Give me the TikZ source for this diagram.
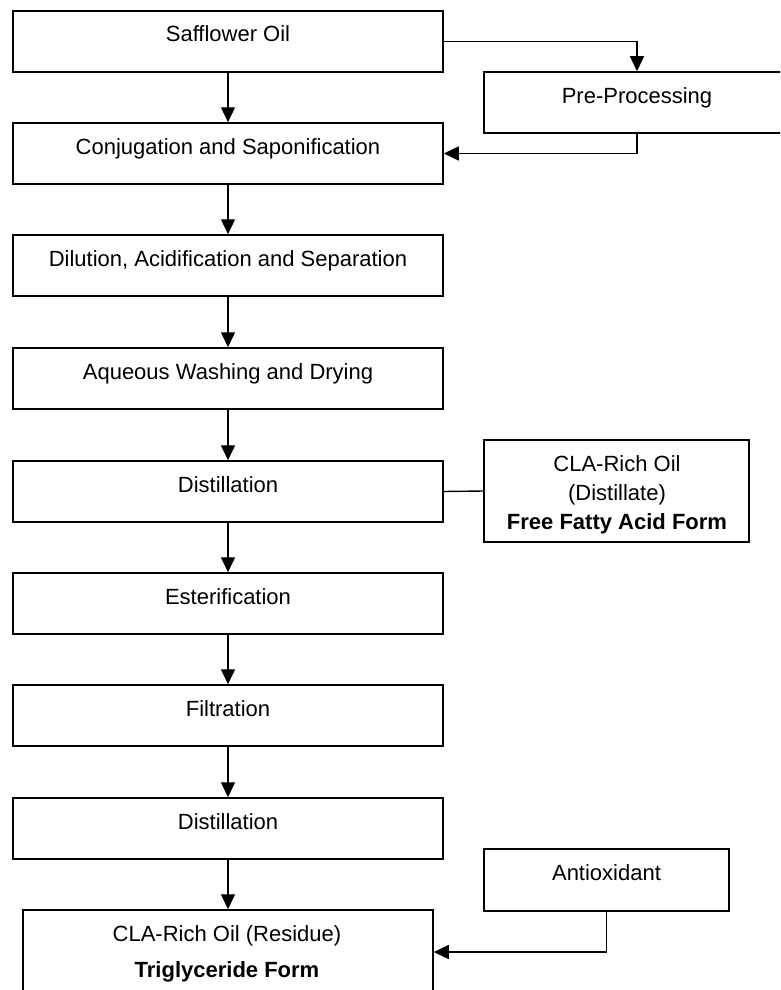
\documentclass[tikz,border=0pt]{standalone}
\usepackage{fontspec}
\setmainfont{Liberation Sans}
\usetikzlibrary{arrows.meta}
\begin{document}
\begin{tikzpicture}[x=1pt,y=-1pt,
  box/.style={draw, line width=1.5pt, inner sep=0pt},
  mainbox/.style={box, minimum width=430pt, minimum height=61pt},
  txt/.style={anchor=base, inner sep=0pt, font=\fontsize{22}{26}\selectfont},
  btxt/.style={txt, font=\fontsize{22}{26}\selectfont\bfseries},
  arr/.style={line width=1.4pt, -{Triangle[length=15pt,width=14pt]}},
  conn/.style={line width=1.4pt}]
\useasboundingbox (0,0) rectangle (780,990);
\clip (0,0) rectangle (780,990);
% main column
\node[mainbox] (saf)  at (228,41.5)  {};
\node[mainbox] (conj) at (228,153.5) {};
\node[mainbox] (dil)  at (228,265.5) {};
\node[mainbox] (aq)   at (228,378.5) {};
\node[mainbox] (dist) at (228,491.5) {};
\node[mainbox] (est)  at (228,603.5) {};
\node[mainbox] (fil)  at (228,715.5) {};
\node[mainbox] (dis2) at (228,828.5) {};
\node[box, minimum width=410pt, minimum height=84pt] (fin) at (228,952) {};
% side boxes
\node[box, minimum width=306pt, minimum height=61pt] (pre) at (637,102.5) {};
\node[box, minimum width=265pt, minimum height=102pt] (cla) at (616.5,491) {};
\node[box, minimum width=245pt, minimum height=62pt] (anti) at (606.5,880) {};
% texts
\node[txt] (tsaf)  at (228,42)  {Safflower Oil};
\node[txt] (tconj) at (228,154) {Conjugation and Saponification};
\node[txt] (tdil)  at (228,266) {Dilution, Acidification and Separation};
\node[txt] (taq)   at (228,379) {Aqueous Washing and Drying};
\node[txt] (tdist) at (228,492) {Distillation};
\node[txt] (test)  at (228,604) {Esterification};
\node[txt] (tfil)  at (228,716) {Filtration};
\node[txt] (tdis2) at (228,829) {Distillation};
\node[txt] (tpre)  at (637,103) {Pre-Processing};
\node[txt] (tcla1) at (617,471) {CLA-Rich Oil};
\node[txt] (tcla2) at (617,500) {(Distillate)};
\node[btxt] (tcla3) at (617,529) {Free Fatty Acid Form};
\node[txt] (tanti) at (606.5,880) {Antioxidant};
\node[txt] (tfin1) at (227,941) {CLA-Rich Oil (Residue)};
\node[btxt] (tfin2) at (227,977) {Triglyceride Form};
% connectors
\draw[arr] (saf.south) -- (conj.north);
\draw[arr] (conj.south) -- (dil.north);
\draw[arr] (dil.south) -- (aq.north);
\draw[arr] (aq.south) -- (dist.north);
\draw[arr] (dist.south) -- (est.north);
\draw[arr] (est.south) -- (fil.north);
\draw[arr] (fil.south) -- (dis2.north);
\draw[arr] (dis2.south) -- (fin.north);
\draw[arr] (saf.east) -| (pre.north);
\draw[arr] (pre.south) |- (conj.east);
\draw[conn] (dist.east) -- (cla.west);
\draw[arr] (anti.south) |- (fin.east);
\end{tikzpicture}
\end{document}
